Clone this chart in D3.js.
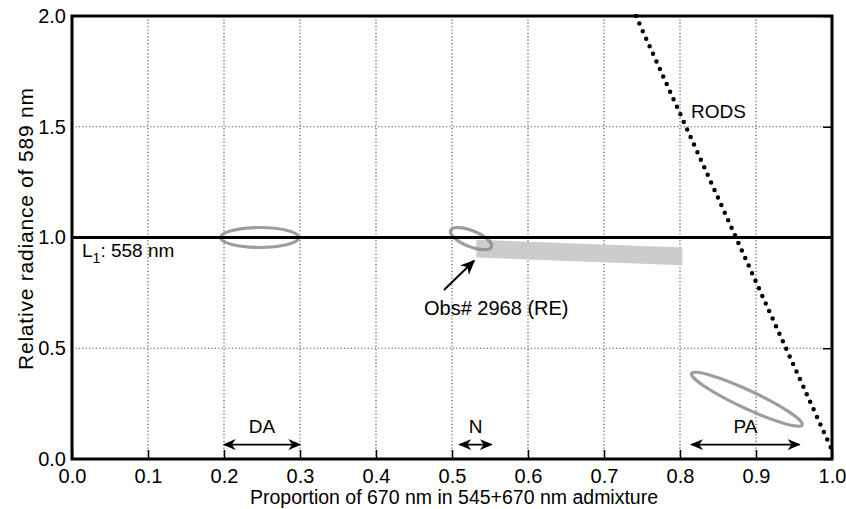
<!DOCTYPE html>
<html>
<head>
<meta charset="utf-8">
<script src="https://cdn.jsdelivr.net/npm/d3@7"></script>
<style>
body { margin: 0; background: #fff; }
text { font-family: "Liberation Sans", Arial, Helvetica, sans-serif; }
</style>
</head>
<body>
<div id="chart"></div>
<script>
// tick values
var xTicks = [0.0, 0.1, 0.2, 0.3, 0.4, 0.5, 0.6, 0.7, 0.8, 0.9, 1.0];
var yTicks = [0.0, 0.5, 1.0, 1.5, 2.0];

// rods line (dotted)
var rods = [[0.742, 2.0], [1.0, 0.04]];

// L1 reference line
var l1Line = [[0.0, 1.0], [1.0, 1.0]];

// ellipses: cx, cy (data), rx, ry (px), angle (deg)
var ellipses = [
  {name: "DA", cx: 0.247, cy: 1.0, rx: 39, ry: 10, angle: 0},
  {name: "N",  cx: 0.525, cy: 0.995, rx: 22, ry: 8, angle: 22},
  {name: "PA", cx: 0.888, cy: 0.27, rx: 61, ry: 9, angle: 25}
];

// obs band polygon
var band = [[0.532, 0.99], [0.803, 0.955], [0.803, 0.875], [0.532, 0.91]];

// range arrows
var ranges = [
  {label: "DA", x0: 0.2, x1: 0.3, y: 0.065},
  {label: "N",  x0: 0.51, x1: 0.552, y: 0.065},
  {label: "PA", x0: 0.815, x1: 0.957, y: 0.065}
];

var W = 846, H = 509;
var margin = {top: 16, right: 14, bottom: 50, left: 72};

var svg = d3.select("#chart").append("svg")
  .attr("width", W).attr("height", H);

var defs = svg.append("defs");
defs.append("marker").attr("id", "head")
  .attr("viewBox", "0 0 10 10").attr("refX", 9).attr("refY", 5)
  .attr("markerWidth", 13).attr("markerHeight", 11)
  .attr("markerUnits", "userSpaceOnUse")
  .attr("orient", "auto-start-reverse")
  .attr("preserveAspectRatio", "none")
  .append("path").attr("d", "M0,0 L10,5 L0,10 L3,5 Z").attr("fill", "#000");
defs.append("marker").attr("id", "head2")
  .attr("viewBox", "0 0 10 10").attr("refX", 9).attr("refY", 5)
  .attr("markerWidth", 15).attr("markerHeight", 13)
  .attr("markerUnits", "userSpaceOnUse")
  .attr("orient", "auto-start-reverse")
  .attr("preserveAspectRatio", "none")
  .append("path").attr("d", "M0,0 L10,5 L0,10 L3,5 Z").attr("fill", "#000");

var x = d3.scaleLinear().domain([0, 1]).range([margin.left, W - margin.right]);
var y = d3.scaleLinear().domain([0, 2]).range([H - margin.bottom, margin.top]);

var g = svg.append("g");

// grid
g.selectAll("line.vgrid").data(xTicks.slice(1, -1)).enter().append("line")
  .attr("class", "vgrid")
  .attr("x1", d => x(d)).attr("x2", d => x(d))
  .attr("y1", y(0)).attr("y2", y(2))
  .attr("stroke", "#555").attr("stroke-width", 1.2).attr("stroke-dasharray", "1.2,2.2");
g.selectAll("line.hgrid").data(yTicks.slice(1, -1)).enter().append("line")
  .attr("class", "hgrid")
  .attr("x1", x(0)).attr("x2", x(1))
  .attr("y1", d => y(d)).attr("y2", d => y(d))
  .attr("stroke", "#555").attr("stroke-width", 1.2).attr("stroke-dasharray", "1.2,2.2");

// obs band
g.append("polygon")
  .attr("points", band.map(p => x(p[0]) + "," + y(p[1])).join(" "))
  .attr("fill", "#cccccc");

// ellipses
g.selectAll("ellipse").data(ellipses).enter().append("ellipse")
  .attr("transform", d => "translate(" + x(d.cx) + "," + y(d.cy) + ") rotate(" + d.angle + ")")
  .attr("rx", d => d.rx).attr("ry", d => d.ry)
  .attr("fill", "none").attr("stroke", "#8c8c8c").attr("stroke-opacity", 0.85).attr("stroke-width", 3.2);

var line = d3.line().x(d => x(d[0])).y(d => y(d[1]));

// L1 line
g.append("path").attr("d", line(l1Line))
  .attr("stroke", "#000").attr("stroke-width", 3).attr("fill", "none");

// rods dotted line
g.append("path").attr("d", line(rods))
  .attr("stroke", "#000").attr("stroke-width", 4.5).attr("fill", "none")
  .attr("stroke-linecap", "round").attr("stroke-dasharray", "0,8.3");

// range arrows
ranges.forEach(function(r) {
  g.append("line")
    .attr("x1", x(r.x0)).attr("x2", x(r.x1))
    .attr("y1", y(r.y)).attr("y2", y(r.y))
    .attr("stroke", "#000").attr("stroke-width", 1.8)
    .attr("marker-start", "url(#head)").attr("marker-end", "url(#head)");
  g.append("text")
    .attr("x", (x(r.x0) + x(r.x1)) / 2).attr("y", y(r.y) - 12)
    .attr("text-anchor", "middle").attr("font-size", 19).text(r.label);
});

// obs annotation
g.append("line")
  .attr("x1", 444).attr("y1", 290).attr("x2", x(0.529)).attr("y2", y(0.895))
  .attr("stroke", "#000").attr("stroke-width", 2)
  .attr("marker-end", "url(#head2)");
g.append("text").attr("x", 424).attr("y", 315).attr("font-size", 20)
  .text("Obs# 2968 (RE)");

// labels
var l1 = g.append("text").attr("x", 82).attr("y", 257).attr("font-size", 19);
l1.append("tspan").text("L");
l1.append("tspan").attr("font-size", 14).attr("dy", 6).text("1");
l1.append("tspan").attr("dy", -6).text(": 558 nm");

g.append("text").attr("x", 691).attr("y", 118).attr("font-size", 19).text("RODS");

// frame
g.append("rect")
  .attr("x", x(0)).attr("y", y(2))
  .attr("width", x(1) - x(0)).attr("height", y(0) - y(2))
  .attr("fill", "none").attr("stroke", "#000").attr("stroke-width", 3);

// axes
var xAxis = d3.axisBottom(x).tickValues(xTicks).tickFormat(d3.format(".1f"))
  .tickSizeInner(-9).tickSizeOuter(0).tickPadding(10);
var gx = svg.append("g").attr("transform", "translate(0," + y(0) + ")").call(xAxis);
var yAxis = d3.axisLeft(y).tickValues(yTicks).tickFormat(d3.format(".1f"))
  .tickSizeInner(0).tickSizeOuter(0).tickPadding(6);
var gy = svg.append("g").attr("transform", "translate(" + x(0) + ",0)").call(yAxis);
var yAxisR = d3.axisRight(y).tickValues(yTicks).tickFormat("")
  .tickSizeInner(-9).tickSizeOuter(0);
var gyr = svg.append("g").attr("transform", "translate(" + x(1) + ",0)").call(yAxisR);
[gx, gy, gyr].forEach(function(a) {
  a.select(".domain").remove();
  a.selectAll("line").attr("stroke", "#000").attr("stroke-width", 1.5);
  a.selectAll("text").attr("font-size", 20).attr("fill", "#000")
    .style("font-family", "'Liberation Sans', Arial, sans-serif");
});
gx.selectAll("text").attr("dy", "0.71em");

// axis titles
svg.append("text").attr("x", 454).attr("y", 504)
  .attr("text-anchor", "middle").attr("font-size", 19.5)
  .text("Proportion of 670 nm in 545+670 nm admixture");
svg.append("text")
  .attr("transform", "translate(33,229) rotate(-90)")
  .attr("text-anchor", "middle").attr("font-size", 21)
  .attr("textLength", 282).attr("lengthAdjust", "spacing")
  .text("Relative radiance of 589 nm");
</script>
</body>
</html>
